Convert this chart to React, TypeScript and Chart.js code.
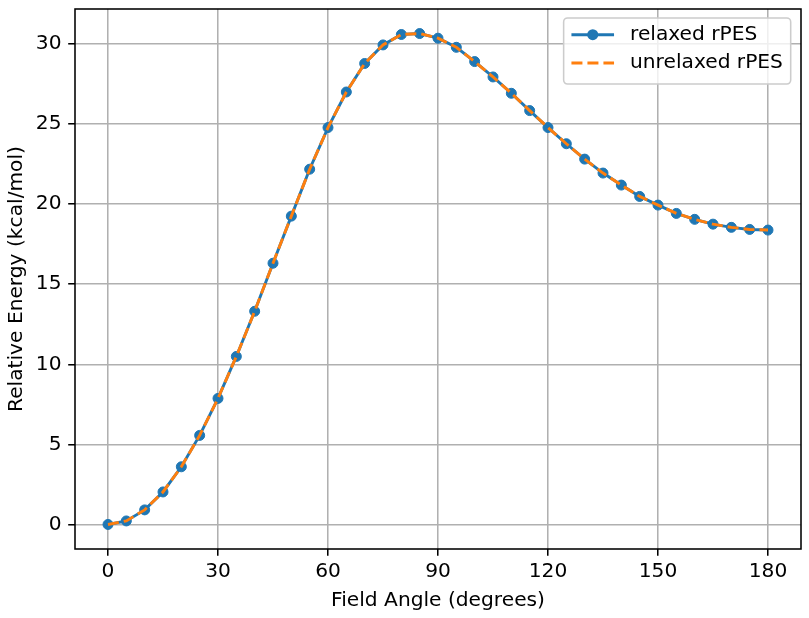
import React, { useEffect, useRef } from 'react';
import { Chart, registerables } from 'chart.js';

Chart.register(...registerables);

// Field angle scan (degrees) and relative energies (kcal/mol)
const fieldAngles = [
  0, 5, 10, 15, 20, 25, 30, 35, 40, 45, 50, 55, 60, 65, 70, 75, 80, 85, 90,
  95, 100, 105, 110, 115, 120, 125, 130, 135, 140, 145, 150, 155, 160, 165,
  170, 175, 180,
];
const relaxedEnergy = [
  0, 0.22, 0.91, 2.03, 3.6, 5.56, 7.87, 10.49, 13.31, 16.31, 19.25, 22.18,
  24.78, 27.0, 28.78, 29.94, 30.59, 30.65, 30.36, 29.79, 28.9, 27.94, 26.92,
  25.84, 24.78, 23.77, 22.81, 21.94, 21.19, 20.48, 19.94, 19.42, 19.05, 18.75,
  18.55, 18.42, 18.38,
];
const unrelaxedEnergy = [
  0, 0.22, 0.91, 2.03, 3.6, 5.56, 7.87, 10.49, 13.31, 16.31, 19.25, 22.18,
  24.78, 27.0, 28.78, 29.94, 30.59, 30.65, 30.36, 29.79, 28.9, 27.94, 26.92,
  25.84, 24.78, 23.77, 22.81, 21.94, 21.19, 20.48, 19.94, 19.42, 19.05, 18.75,
  18.55, 18.42, 18.38,
];
const seriesLabels = ['relaxed rPES', 'unrelaxed rPES'];
const xTickValues = [0, 30, 60, 90, 120, 150, 180];
const yTickValues = [0, 5, 10, 15, 20, 25, 30];
const xTitle = 'Field Angle (degrees)';
const yTitle = 'Relative Energy (kcal/mol)';

const FONT_FAMILY = '"DejaVu Sans", "Liberation Sans", sans-serif';
const FONT_SIZE = 20.2;
const BLUE = '#1f77b4';
const ORANGE = '#ff7f0e';
const GRID = '#b0b0b0';
const LINE_W = 2.9;
const THIN = 1.55;
const DASH = [11, 5];

// pad the data range by 5% on each side
function paddedRange(values: number[]) {
  const lo = Math.min(...values);
  const hi = Math.max(...values);
  const m = (hi - lo) * 0.05;
  return [lo - m, hi + m];
}

const frameAndLegend = {
  id: 'frameAndLegend',
  afterDatasetsDraw(chart: any) {
    const { ctx, chartArea } = chart;
    const { left, right, top, bottom } = chartArea;
    ctx.save();
    // axes frame
    ctx.strokeStyle = '#000';
    ctx.lineWidth = THIN;
    ctx.strokeRect(left, top, right - left, bottom - top);

    // legend box in the upper right corner
    ctx.font = `${FONT_SIZE}px ${FONT_FAMILY}`;
    const textW = Math.max(...seriesLabels.map((s) => ctx.measureText(s).width));
    const pad = 7.8;
    const handleLen = 42.6;
    const textOff = 58.6;
    const boxW = pad + textOff + textW + pad;
    const boxH = 66;
    const boxRight = right - 10.3;
    const boxTop = top + 9;
    const boxLeft = boxRight - boxW;
    ctx.beginPath();
    ctx.roundRect(boxLeft, boxTop, boxW, boxH, 3.9);
    ctx.fillStyle = 'rgba(255,255,255,0.8)';
    ctx.fill();
    ctx.strokeStyle = '#cccccc';
    ctx.lineWidth = THIN;
    ctx.stroke();

    const hx = boxLeft + pad;
    const rows = [boxTop + 16.7, boxTop + 45];
    // relaxed handle: solid line with marker
    ctx.strokeStyle = BLUE;
    ctx.lineWidth = LINE_W;
    ctx.setLineDash([]);
    ctx.beginPath();
    ctx.moveTo(hx, rows[0]);
    ctx.lineTo(hx + handleLen, rows[0]);
    ctx.stroke();
    ctx.fillStyle = BLUE;
    ctx.beginPath();
    ctx.arc(hx + handleLen / 2, rows[0], 5.5, 0, Math.PI * 2);
    ctx.fill();
    // unrelaxed handle: dashed line
    ctx.strokeStyle = ORANGE;
    ctx.setLineDash(DASH);
    ctx.beginPath();
    ctx.moveTo(hx, rows[1]);
    ctx.lineTo(hx + handleLen, rows[1]);
    ctx.stroke();
    ctx.setLineDash([]);

    ctx.fillStyle = '#000';
    ctx.textBaseline = 'middle';
    ctx.textAlign = 'left';
    seriesLabels.forEach((s, i) => ctx.fillText(s, hx + textOff, rows[i]));
    ctx.restore();
  },
};

export default function App() {
  const canvasRef = useRef<HTMLCanvasElement | null>(null);

  useEffect(() => {
    const canvas = canvasRef.current;
    if (!canvas) return;
    const [xMin, xMax] = paddedRange(fieldAngles);
    const [yMin, yMax] = paddedRange([...relaxedEnergy, ...unrelaxedEnergy]);
    const tickFont = { family: FONT_FAMILY, size: FONT_SIZE };

    const chart = new Chart(canvas, {
      type: 'line',
      data: {
        datasets: [
          {
            label: seriesLabels[0],
            data: fieldAngles.map((x, i) => ({ x, y: relaxedEnergy[i] })),
            borderColor: BLUE,
            backgroundColor: BLUE,
            borderWidth: LINE_W,
            pointRadius: 5,
            pointBorderWidth: 1,
            pointBackgroundColor: BLUE,
            pointBorderColor: BLUE,
            tension: 0,
            order: 2,
          },
          {
            label: seriesLabels[1],
            data: fieldAngles.map((x, i) => ({ x, y: unrelaxedEnergy[i] })),
            borderColor: ORANGE,
            backgroundColor: ORANGE,
            borderWidth: LINE_W,
            borderDash: DASH,
            pointRadius: 0,
            tension: 0,
            order: 1,
          },
        ],
      },
      options: {
        responsive: false,
        animation: false,
        devicePixelRatio: 1,
        layout: { padding: { left: 0, top: 9, right: 8, bottom: 0 } },
        plugins: {
          legend: { display: false },
          tooltip: { enabled: false },
        },
        scales: {
          x: {
            type: 'linear',
            min: xMin,
            max: xMax,
            afterBuildTicks: (scale: any) => {
              scale.ticks = xTickValues.map((v) => ({ value: v }));
            },
            afterFit: (scale: any) => {
              scale.height = 69;
              scale.paddingLeft = 0;
              scale.paddingRight = 0;
            },
            ticks: {
              font: tickFont,
              color: '#000',
              padding: 4,
              maxRotation: 0,
              autoSkip: false,
            },
            grid: {
              color: GRID,
              lineWidth: THIN,
              tickColor: '#000',
              tickWidth: THIN,
              tickLength: 6.8,
            },
            border: { display: false },
            title: {
              display: true,
              text: xTitle,
              color: '#000',
              font: tickFont,
              padding: { top: 0, bottom: 5 },
            },
          },
          y: {
            type: 'linear',
            min: yMin,
            max: yMax,
            afterBuildTicks: (scale: any) => {
              scale.ticks = yTickValues.map((v) => ({ value: v }));
            },
            afterFit: (scale: any) => {
              scale.width = 75;
              scale.paddingTop = 0;
              scale.paddingBottom = 0;
            },
            ticks: {
              font: tickFont,
              color: '#000',
              padding: 6.7,
              autoSkip: false,
            },
            grid: {
              color: GRID,
              lineWidth: THIN,
              tickColor: '#000',
              tickWidth: THIN,
              tickLength: 6.8,
            },
            border: { display: false },
            title: {
              display: true,
              text: yTitle,
              color: '#000',
              font: tickFont,
              padding: { top: 5, bottom: 0 },
            },
          },
        },
      },
      plugins: [frameAndLegend],
    });

    return () => chart.destroy();
  }, []);

  return (
    <div style={{ position: 'absolute', left: 0, top: 0, width: 809, height: 618, background: '#fff' }}>
      <canvas ref={canvasRef} width={809} height={618} style={{ display: 'block' }} />
    </div>
  );
}
